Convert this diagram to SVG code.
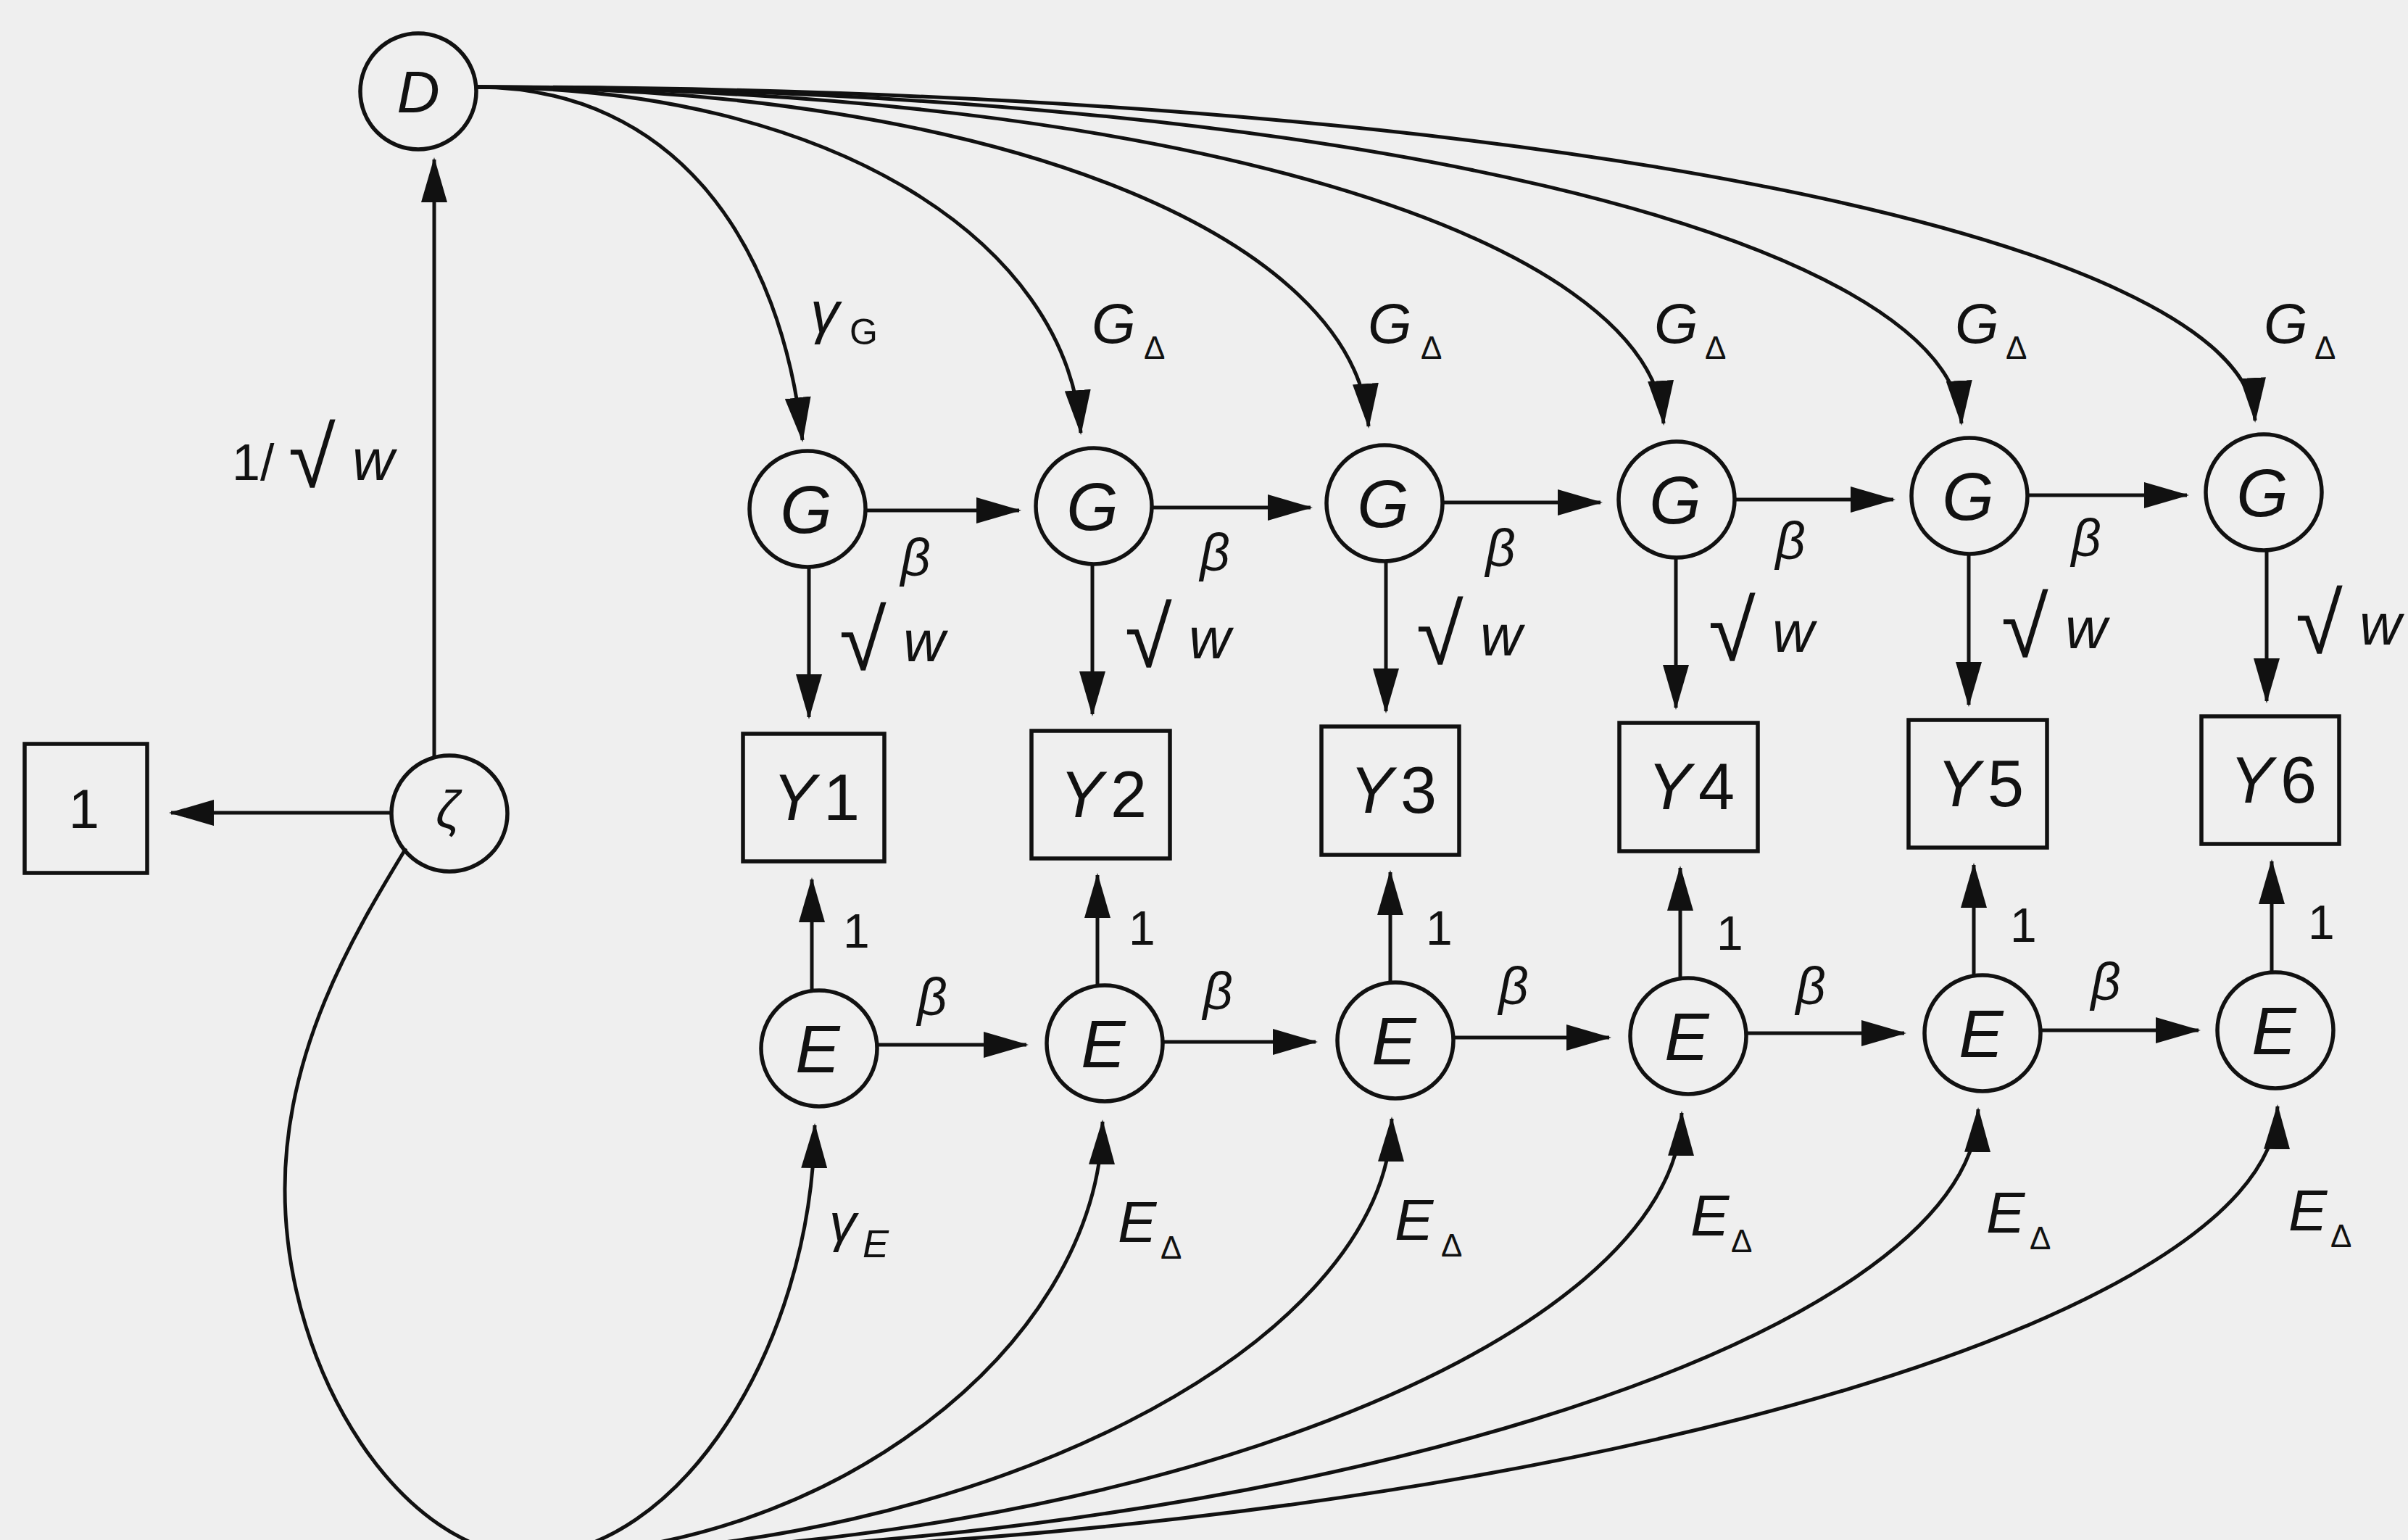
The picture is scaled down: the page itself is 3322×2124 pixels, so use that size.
<svg xmlns="http://www.w3.org/2000/svg" width="3322" height="2124" viewBox="0 0 3322 2124">
<defs>
<style>
.bg{fill:#efefef}
.n{fill:none;stroke:#111;stroke-width:5.5}
.c{fill:none;stroke:#111;stroke-width:5;marker-end:url(#ah)}
.p{fill:none;stroke:#111;stroke-width:5}
.t{font-family:"Liberation Sans",Arial,sans-serif;fill:#111}
.i{font-style:italic}
.nl{font-size:92px;font-style:italic;text-anchor:middle}
.yl{font-size:90px;text-anchor:middle}
.b{font-size:72px;font-style:italic;text-anchor:middle}
.one{font-size:66px}
.rt{font-size:118px}
.w{font-size:80px;font-style:italic}
.big{font-size:78px;font-style:italic}
.sub{font-size:44px}
</style>
<marker id="ah" markerUnits="userSpaceOnUse" markerWidth="62" markerHeight="36" refX="59" refY="18" orient="auto">
<path d="M0,0 L62,18 L0,36 z" fill="#111"/>
</marker>
</defs>
<rect class="bg" x="0" y="0" width="3322" height="2124"/>

<g id="connectors">
<path class="c" d="M540,1121 L236,1121"/>
<path class="c" d="M599,1044 L599,220"/>
<path class="c" d="M656,120 C935,120 1078,339 1107,607"/>
<path class="c" d="M656,120 C1150,120 1472,335 1491,597"/>
<path class="c" d="M656,120 C1390,120 1870,331 1888,588"/>
<path class="c" d="M656,120 C1630,120 2278,329 2295,584"/>
<path class="c" d="M656,120 C1870,120 2692,329 2706,584"/>
<path class="c" d="M656,120 C2110,120 3098,327 3111,580"/>
<path class="c" d="M1194,704 L1406,704"/>
<path class="c" d="M1589,700 L1808,700"/>
<path class="c" d="M1990,693 L2208,693"/>
<path class="c" d="M2393,689 L2612,689"/>
<path class="c" d="M2797,683 L3017,683"/>
<path class="c" d="M1210,1441 L1416,1441"/>
<path class="c" d="M1604,1437 L1815,1437"/>
<path class="c" d="M2005,1431 L2220,1431"/>
<path class="c" d="M2409,1425 L2627,1425"/>
<path class="c" d="M2815,1421 L3033,1421"/>
<path class="c" d="M1116,782 L1116,989"/>
<path class="c" d="M1507,778 L1507,985"/>
<path class="c" d="M1912,774 L1912,981"/>
<path class="c" d="M2312,769 L2312,976"/>
<path class="c" d="M2716,764 L2716,972"/>
<path class="c" d="M3127,759 L3127,967"/>
<path class="c" d="M1120,1366 L1120,1213"/>
<path class="c" d="M1514,1359 L1514,1207"/>
<path class="c" d="M1918,1355 L1918,1203"/>
<path class="c" d="M2318,1349 L2318,1197"/>
<path class="c" d="M2723,1345 L2723,1193"/>
<path class="c" d="M3134,1341 L3134,1188"/>
<path class="p" d="M560,1170 C485,1293 393,1450 393,1640 C393,1900 560,2145 730,2145"/>
<path class="c" d="M730,2145 C935,2145 1120,1860 1124,1552"/>
<path class="c" d="M730,2145 C1141,2145 1516,1858 1521,1547"/>
<path class="c" d="M730,2145 C1349,2145 1915,1856 1920,1543"/>
<path class="c" d="M730,2145 C1557,2145 2315,1852 2320,1535"/>
<path class="c" d="M730,2145 C1769,2145 2724,1850 2729,1530"/>
<path class="c" d="M730,2145 C1984,2145 3137,1848 3142,1526"/>
</g>

<g id="labels" class="t">
<text x="320" y="662" style="font-size:70px">1/</text>
<text x="398" y="672" class="rt">√</text>
<text x="486" y="662" class="w">w</text>
<text x="1118" y="458" class="i" style="font-size:80px">γ</text>
<text x="1172" y="475" style="font-size:50px">G</text>
<text x="1506" y="473" class="big">G</text><text x="1578" y="495" class="sub">Δ</text>
<text x="1887" y="473" class="big">G</text><text x="1960" y="495" class="sub">Δ</text>
<text x="2282" y="473" class="big">G</text><text x="2352" y="495" class="sub">Δ</text>
<text x="2697" y="473" class="big">G</text><text x="2767" y="495" class="sub">Δ</text>
<text x="3123" y="473" class="big">G</text><text x="3193" y="495" class="sub">Δ</text>
<text x="1263" y="794" class="b">β</text>
<text x="1676" y="787" class="b">β</text>
<text x="2070" y="781" class="b">β</text>
<text x="2470" y="771" class="b">β</text>
<text x="2878" y="767" class="b">β</text>
<text x="1158" y="924" class="rt">√</text><text x="1246" y="912" class="w">w</text>
<text x="1552" y="920" class="rt">√</text><text x="1640" y="908" class="w">w</text>
<text x="1954" y="916" class="rt">√</text><text x="2042" y="904" class="w">w</text>
<text x="2357" y="911" class="rt">√</text><text x="2445" y="899" class="w">w</text>
<text x="2761" y="906" class="rt">√</text><text x="2849" y="894" class="w">w</text>
<text x="3167" y="901" class="rt">√</text><text x="3255" y="889" class="w">w</text>
<text x="1163" y="1307" class="one">1</text>
<text x="1557" y="1303" class="one">1</text>
<text x="1967" y="1303" class="one">1</text>
<text x="2368" y="1310" class="one">1</text>
<text x="2773" y="1299" class="one">1</text>
<text x="3184" y="1295" class="one">1</text>
<text x="1286" y="1400" class="b">β</text>
<text x="1680" y="1392" class="b">β</text>
<text x="2088" y="1385" class="b">β</text>
<text x="2498" y="1385" class="b">β</text>
<text x="2905" y="1379" class="b">β</text>
<text x="1144" y="1712" class="i" style="font-size:75px">γ</text>
<text x="1190" y="1734" class="i" style="font-size:54px">E</text>
<text x="1542" y="1713" class="i" style="font-size:80px">E</text><text x="1601" y="1736" class="sub">Δ</text>
<text x="1924" y="1710" class="i" style="font-size:80px">E</text><text x="1988" y="1733" class="sub">Δ</text>
<text x="2332" y="1704" class="i" style="font-size:80px">E</text><text x="2388" y="1727" class="sub">Δ</text>
<text x="2740" y="1700" class="i" style="font-size:80px">E</text><text x="2800" y="1723" class="sub">Δ</text>
<text x="3157" y="1697" class="i" style="font-size:80px">E</text><text x="3215" y="1720" class="sub">Δ</text>
</g>

<g id="node-D"><circle class="n" cx="577" cy="126" r="80"/><text class="t" x="577" y="155" style="font-size:82px;font-style:italic;text-anchor:middle">D</text></g>
<g id="node-zeta"><circle class="n" cx="620" cy="1122" r="80"/><text class="t" x="618" y="1142" style="font-size:72px;font-style:italic;text-anchor:middle">ζ</text></g>
<g id="node-one"><rect class="n" x="34" y="1026" width="169" height="178"/><text class="t" x="116" y="1142" style="font-size:76px;text-anchor:middle">1</text></g>

<g id="node-G1"><circle class="n" cx="1114" cy="702" r="80"/><text class="t nl" x="1112" y="735">G</text></g>
<g id="node-G2"><circle class="n" cx="1509" cy="698" r="80"/><text class="t nl" x="1507" y="731">G</text></g>
<g id="node-G3"><circle class="n" cx="1910" cy="694" r="80"/><text class="t nl" x="1908" y="727">G</text></g>
<g id="node-G4"><circle class="n" cx="2313" cy="689" r="80"/><text class="t nl" x="2311" y="722">G</text></g>
<g id="node-G5"><circle class="n" cx="2717" cy="684" r="80"/><text class="t nl" x="2715" y="717">G</text></g>
<g id="node-G6"><circle class="n" cx="3123" cy="679" r="80"/><text class="t nl" x="3121" y="712">G</text></g>

<g id="node-Y1"><rect class="n" x="1025" y="1012" width="195" height="176"/><text class="t yl" x="1126" y="1131"><tspan font-style="italic">Y</tspan><tspan dx="10">1</tspan></text></g>
<g id="node-Y2"><rect class="n" x="1423" y="1008" width="191" height="176"/><text class="t yl" x="1522" y="1127"><tspan font-style="italic">Y</tspan><tspan dx="10">2</tspan></text></g>
<g id="node-Y3"><rect class="n" x="1823" y="1002" width="190" height="177"/><text class="t yl" x="1922" y="1121"><tspan font-style="italic">Y</tspan><tspan dx="10">3</tspan></text></g>
<g id="node-Y4"><rect class="n" x="2234" y="997" width="191" height="177"/><text class="t yl" x="2333" y="1116"><tspan font-style="italic">Y</tspan><tspan dx="10">4</tspan></text></g>
<g id="node-Y5"><rect class="n" x="2633" y="993" width="191" height="176"/><text class="t yl" x="2732" y="1112"><tspan font-style="italic">Y</tspan><tspan dx="10">5</tspan></text></g>
<g id="node-Y6"><rect class="n" x="3037" y="988" width="190" height="176"/><text class="t yl" x="3136" y="1107"><tspan font-style="italic">Y</tspan><tspan dx="10">6</tspan></text></g>

<g id="node-E1"><circle class="n" cx="1130" cy="1446" r="80"/><text class="t nl" x="1128" y="1479">E</text></g>
<g id="node-E2"><circle class="n" cx="1524" cy="1439" r="80"/><text class="t nl" x="1522" y="1472">E</text></g>
<g id="node-E3"><circle class="n" cx="1925" cy="1435" r="80"/><text class="t nl" x="1923" y="1468">E</text></g>
<g id="node-E4"><circle class="n" cx="2329" cy="1429" r="80"/><text class="t nl" x="2327" y="1462">E</text></g>
<g id="node-E5"><circle class="n" cx="2735" cy="1425" r="80"/><text class="t nl" x="2733" y="1458">E</text></g>
<g id="node-E6"><circle class="n" cx="3139" cy="1421" r="80"/><text class="t nl" x="3137" y="1454">E</text></g>
</svg>
